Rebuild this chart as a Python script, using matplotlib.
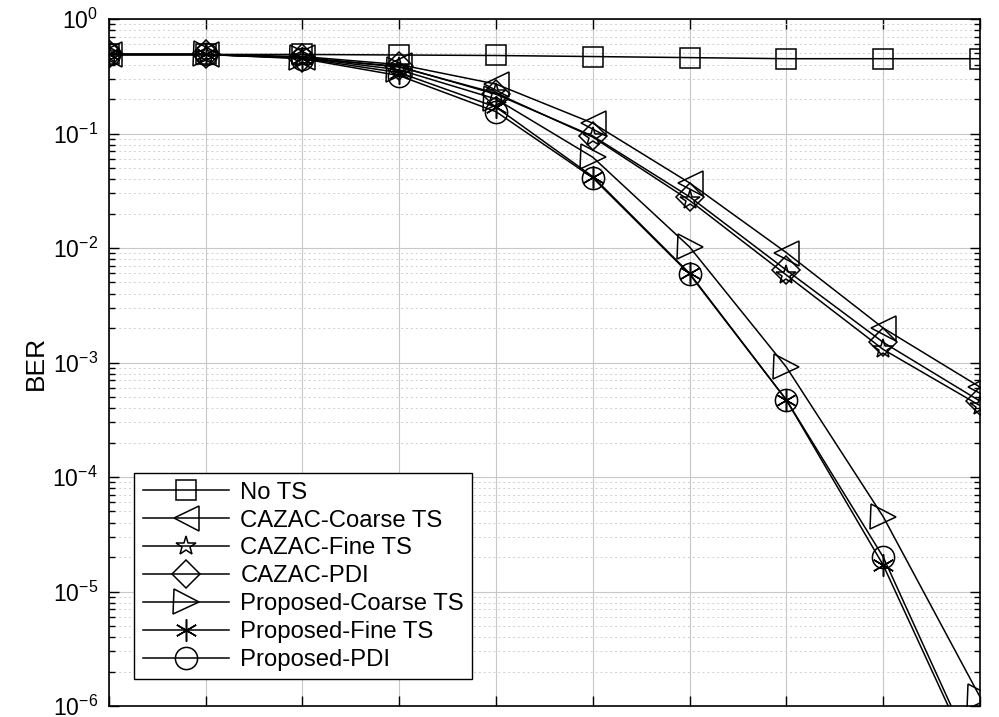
import matplotlib
matplotlib.use("Agg")
import matplotlib.pyplot as plt
import numpy as np
from matplotlib.ticker import LogLocator, NullFormatter, FixedLocator

plt.rcParams['font.family'] = ['Liberation Sans', 'DejaVu Sans']
plt.rcParams['mathtext.fontset'] = 'custom'
plt.rcParams['mathtext.rm'] = 'Liberation Sans'

snr = [0, 2, 4, 6, 8, 10, 12, 14, 16, 18]

no_ts = [0.49, 0.49, 0.49, 0.485, 0.48, 0.47, 0.46, 0.45, 0.45, 0.45]
cazac_coarse = [0.49, 0.49, 0.47, 0.40, 0.27, 0.123, 0.037, 0.0091, 0.0020, 0.00061]
cazac_fine = [0.49, 0.49, 0.46, 0.38, 0.225, 0.093, 0.026, 0.0058, 0.0013, 0.00042]
cazac_pdi = [0.49, 0.49, 0.46, 0.385, 0.22, 0.095, 0.028, 0.0064, 0.0015, 0.00046]
prop_coarse = [0.49, 0.49, 0.46, 0.36, 0.20, 0.062, 0.0102, 0.00091, 4.5e-5, 1.2e-6]
prop_fine = [0.49, 0.49, 0.455, 0.34, 0.17, 0.042, 0.0060, 0.00047, 1.7e-5, 2.5e-7]
prop_pdi = [0.49, 0.49, 0.45, 0.32, 0.155, 0.041, 0.0059, 0.00047, 2.0e-5, 2.8e-7]

labels = ['No TS', 'CAZAC-Coarse TS', 'CAZAC-Fine TS', 'CAZAC-PDI',
          'Proposed-Coarse TS', 'Proposed-Fine TS', 'Proposed-PDI']
series = [no_ts, cazac_coarse, cazac_fine, cazac_pdi, prop_coarse, prop_fine, prop_pdi]
markers = ['s', '<', '*', 'D', '>', (6, 2, 0), 'o']
msizes = [15, 18, 15, 14, 18, 16, 16]

fig = plt.figure(figsize=(9.99, 7.17), dpi=100)
ax = fig.add_axes([0.109, 0.0153, 0.872, 0.9582])

for y, lab, m, ms in zip(series, labels, markers, msizes):
    ax.semilogy(snr, y, color='black', linewidth=1.1, marker=m, markersize=ms,
                markerfacecolor='none', markeredgecolor='black', markeredgewidth=1.1,
                label=lab)

ax.set_xlim(0, 18)
ax.set_ylim(1e-6, 1)
ax.xaxis.set_major_locator(FixedLocator(snr))
ax.set_xticklabels([])
ax.yaxis.set_major_locator(LogLocator(base=10, numticks=10))
ax.yaxis.set_minor_locator(LogLocator(base=10, subs=np.arange(2, 10), numticks=20))
ax.yaxis.set_minor_formatter(NullFormatter())

ax.grid(True, which='major', color='#c8c8c8', linewidth=0.8, linestyle='-')
ax.grid(True, which='minor', axis='y', color='#d0d0d0', linewidth=0.7, linestyle=(0, (2, 3)))
ax.tick_params(which='both', direction='in', top=True, right=True, labelsize=16.5, width=1.0)
ax.tick_params(which='major', length=7, pad=8)
ax.tick_params(which='minor', length=4)
for s in ax.spines.values():
    s.set_linewidth(1.2)

ax.set_ylabel('BER', fontsize=19, labelpad=3)

leg = ax.legend(loc='lower left', bbox_to_anchor=(0.029, 0.039), fontsize=17.2,
                frameon=True, fancybox=False, edgecolor='black', framealpha=1,
                handlelength=3.6, handletextpad=0.5, labelspacing=0.245,
                borderpad=0.35, borderaxespad=0)
leg.get_frame().set_linewidth(1.0)

fig.savefig('out.png', dpi=100)
